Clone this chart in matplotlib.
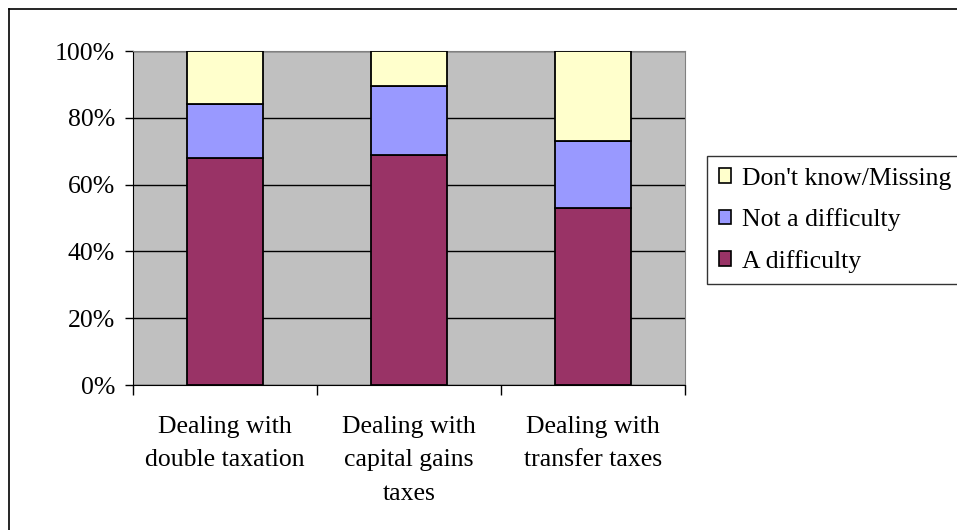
import matplotlib.pyplot as plt
import numpy as np
from matplotlib.lines import Line2D
from matplotlib.patches import Patch

categories = [
    "Dealing with\ndouble taxation",
    "Dealing with\ncapital gains\ntaxes",
    "Dealing with\ntransfer taxes",
]
series_names = ["A difficulty", "Not a difficulty", "Don't know/Missing"]
a_difficulty = [68, 69, 53]
not_difficulty = [16, 20.5, 20]
dont_know = [16, 10.5, 27]
yticks = [0, 20, 40, 60, 80, 100]

colors = ["#993366", "#9999FF", "#FFFFCC"]

plt.rcParams["font.family"] = ["Liberation Serif", "DejaVu Serif"]
plt.rcParams["font.size"] = 18.5

W, H = 957, 530
fig = plt.figure(figsize=(W / 100, H / 100), dpi=100)
ax = fig.add_axes([133 / W, 1 - 385 / H, (685 - 133) / W, (385 - 51) / H])
ax.set_facecolor("#C0C0C0")

x = np.arange(len(categories))
bottom = np.zeros(len(categories))
handles = []
for name, vals, c in zip(series_names, [a_difficulty, not_difficulty, dont_know], colors):
    ax.bar(x, vals, 0.41, bottom=bottom, color=c, edgecolor="black",
           linewidth=1.3, zorder=3)
    bottom += np.array(vals)
    handles.append(Patch(facecolor=c, edgecolor="black", linewidth=1.2, label=name))

ax.set_xlim(-0.5, len(categories) - 0.5)
ax.set_ylim(0, 100)
ax.set_yticks(yticks)
ax.set_yticklabels([f"{v}%" for v in yticks])
ax.yaxis.grid(True, color="black", linewidth=1, zorder=1)
ax.set_axisbelow(True)

ax.set_xticks(np.arange(len(categories) + 1) - 0.5)
ax.set_xticklabels([])
ax.set_xticks(x, minor=True)
ax.set_xticklabels(categories, minor=True, linespacing=1.7)
ax.tick_params(axis="x", which="major", length=7, direction="out", width=1)
ax.tick_params(axis="x", which="minor", length=0, pad=22)
ax.tick_params(axis="y", length=6, direction="out", width=1, pad=7)

for s in ["top", "right"]:
    ax.spines[s].set_color("#808080")
ax.spines["left"].set_color("black")
ax.spines["bottom"].set_color("black")

leg = fig.legend(handles=handles[::-1], loc="upper left",
                 bbox_to_anchor=(707 / W, 1 - 156 / H), frameon=True,
                 fancybox=False, handlelength=0.5, handleheight=0.5,
                 handletextpad=0.4, labelspacing=0.72, borderpad=0.45,
                 borderaxespad=0, fontsize=18.5)
leg.get_frame().set_edgecolor("black")
leg.get_frame().set_linewidth(1)

# outer chart border
fig.add_artist(Line2D([8.5 / W, 8.5 / W], [0, 1 - 9 / H], color="black", linewidth=1.2))
fig.add_artist(Line2D([8.5 / W, 1], [1 - 9 / H, 1 - 9 / H], color="black", linewidth=1.2))

fig.savefig("out.png", dpi=100)
